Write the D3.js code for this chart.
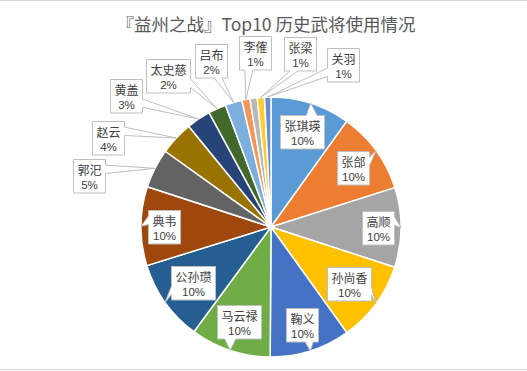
<!DOCTYPE html>
<html>
<head>
<meta charset="utf-8">
<script src="https://cdn.jsdelivr.net/npm/d3@7/dist/d3.min.js"></script>
<style>
  body { margin: 0; background: #fff; }
  svg { display: block; }
</style>
</head>
<body>
<script>
// data (usage counts, in draw order clockwise from 12 o'clock)
const generals = ["张琪瑛", "张郃", "高顺", "孙尚香", "鞠义", "马云禄", "公孙瓒", "典韦",
                  "郭汜", "赵云", "黄盖", "太史慈", "吕布", "李傕", "其他", "张梁", "关羽"];
const usage = [99, 102, 99, 101, 100, 100, 101, 98, 49, 42, 30, 22, 21, 10, 9, 9, 8];
const unlabeled = ["其他"];   // this slice has no label in the original

const palette = ["#5B9BD5", "#ED7D31", "#A5A5A5", "#FFC000", "#4472C4", "#70AD47", "#255E91",
                 "#9E480E", "#636363", "#997300", "#264478", "#43682B", "#7CAFDD", "#F1975A",
                 "#B7B7B7", "#FFCD33", "#698ED0"];

const width = 527, height = 371;
const cx = 271, cy = 227, R = 130;
const cjk = "'Noto Sans CJK SC', 'Noto Sans', sans-serif";
const latin = "'Liberation Sans', 'Noto Sans', sans-serif";

const data = generals.map((name, i) => ({name, value: usage[i]}));
const total = d3.sum(usage);
const pct = d3.format(".0%");

const svg = d3.select("body").append("svg")
    .attr("width", width)
    .attr("height", height);

// frame lines top / bottom
svg.append("line").attr("x1", 0).attr("x2", width).attr("y1", 0.5).attr("y2", 0.5)
    .attr("stroke", "#D9D9D9");
svg.append("line").attr("x1", 0).attr("x2", width).attr("y1", height - 1.5).attr("y2", height - 1.5)
    .attr("stroke", "#D9D9D9");

svg.append("text")
    .attr("x", 266).attr("y", 23)
    .attr("text-anchor", "middle")
    .attr("dominant-baseline", "central")
    .style("font-family", cjk)
    .style("font-size", "17.5px")
    .attr("fill", "#595959")
    .text("『益州之战』Top10 历史武将使用情况");

const pie = d3.pie().sort(null).value(d => d.value);
const arc = d3.arc().innerRadius(0).outerRadius(R);
const arcs = pie(data);

const g = svg.append("g").attr("transform", `translate(${cx},${cy})`);

g.selectAll("path.slice")
    .data(arcs)
  .enter().append("path")
    .attr("class", "slice")
    .attr("d", arc)
    .attr("fill", (d, i) => palette[i % palette.length])
    .attr("stroke", "#fff")
    .attr("stroke-width", 1.5)
    .attr("stroke-linejoin", "round");

// ---- labels (Excel style wedge callouts) ----
const labels = arcs.filter(d => !unlabeled.includes(d.data.name)).map(d => {
  const ang = (d.startAngle + d.endAngle) / 2;
  return {
    d, ang, s: 1,
    w: d.data.name.length * 12 + 8,
    h: 33.5,
    inside: d.value / total >= 0.08,
    tip: [Math.sin(ang) * R, -Math.cos(ang) * R]
  };
});

// inside: push box outwards until its far corner sits just inside the rim
labels.filter(l => l.inside).forEach(l => {
  const ux = Math.sin(l.ang), uy = -Math.cos(l.ang);
  const c = [Math.sign(ux) * l.w / 2, Math.sign(uy) * l.h / 2];
  const uc = ux * c[0] + uy * c[1], L = R - 6;
  const t = -uc + Math.sqrt(uc * uc - (c[0] * c[0] + c[1] * c[1]) + L * L);
  l.x = ux * t; l.y = uy * t;
});

// outside: spread evenly round the group's mean angle on an ellipse,
// then push a box outwards while it still hits its clockwise neighbour
const rx = 190, ry = 175, spread = 13.6 * Math.PI / 180;
function place(l) {
  l.x = Math.sin(l.ang) * rx * l.s;
  l.y = -Math.cos(l.ang) * ry * l.s;
}
function overlaps(a, b, pad) {
  return Math.abs(a.x - b.x) < (a.w + b.w) / 2 + pad && Math.abs(a.y - b.y) < (a.h + b.h) / 2 + pad;
}
const outer = labels.filter(l => !l.inside);
outer.forEach(l => { if (l.ang > Math.PI) l.ang -= 2 * Math.PI; });
const meanAng = d3.mean(outer, l => l.ang);
outer.forEach((l, i) => {
  l.ang = meanAng + (i - (outer.length - 1) / 2) * spread;
  place(l);
});
for (let i = outer.length - 2; i >= 0; i--) {
  while (overlaps(outer[i], outer[i + 1], 4) && outer[i].s < 2) {
    outer[i].s += 0.01;
    place(outer[i]);
  }
}

function calloutPath(w, h, tx, ty) {
  const dxp = tx - w / 2, dyp = ty - h / 2;
  if (Math.abs(dxp) * h > Math.abs(dyp) * w) {
    const y1 = h * (dyp > 0 ? 7 : 2) / 12, y2 = h * (dyp > 0 ? 10 : 5) / 12;
    if (dxp > 0) return `M0,0H${w}V${y1}L${tx},${ty}L${w},${y2}V${h}H0Z`;
    return `M0,0H${w}V${h}H0V${y2}L${tx},${ty}L0,${y1}Z`;
  }
  const x1 = w * (dxp > 0 ? 7 : 2) / 12, x2 = w * (dxp > 0 ? 10 : 5) / 12;
  if (dyp < 0) return `M0,0H${x1}L${tx},${ty}L${x2},0H${w}V${h}H0Z`;
  return `M0,0H${w}V${h}H${x2}L${tx},${ty}L${x1},${h}H0Z`;
}

labels.forEach(l => {
  l.ox = Math.round(l.x - l.w / 2) + 0.5;
  l.oy = Math.round(l.y - l.h / 2) + 0.5;
});

const lab = g.selectAll("g.label")
    .data(labels)
  .enter().append("g")
    .attr("class", "label")
    .attr("transform", l => `translate(${l.ox},${l.oy})`);

lab.append("path")
    .attr("d", l => calloutPath(l.w, l.h, l.tip[0] - l.ox, l.tip[1] - l.oy))
    .attr("fill", "#fff")
    .attr("stroke", "#BFBFBF")
    .attr("stroke-width", 1);

lab.append("text")
    .attr("x", l => l.w / 2)
    .attr("y", 15)
    .attr("text-anchor", "middle")
    .style("font-family", cjk)
    .style("font-size", "12px")
    .attr("fill", "#404040")
    .text(l => l.d.data.name);

lab.append("text")
    .attr("x", l => l.w / 2)
    .attr("y", 29)
    .attr("text-anchor", "middle")
    .style("font-family", latin)
    .style("font-size", "11.5px")
    .attr("fill", "#404040")
    .text(l => pct(l.d.value / total));
</script>
</body>
</html>
